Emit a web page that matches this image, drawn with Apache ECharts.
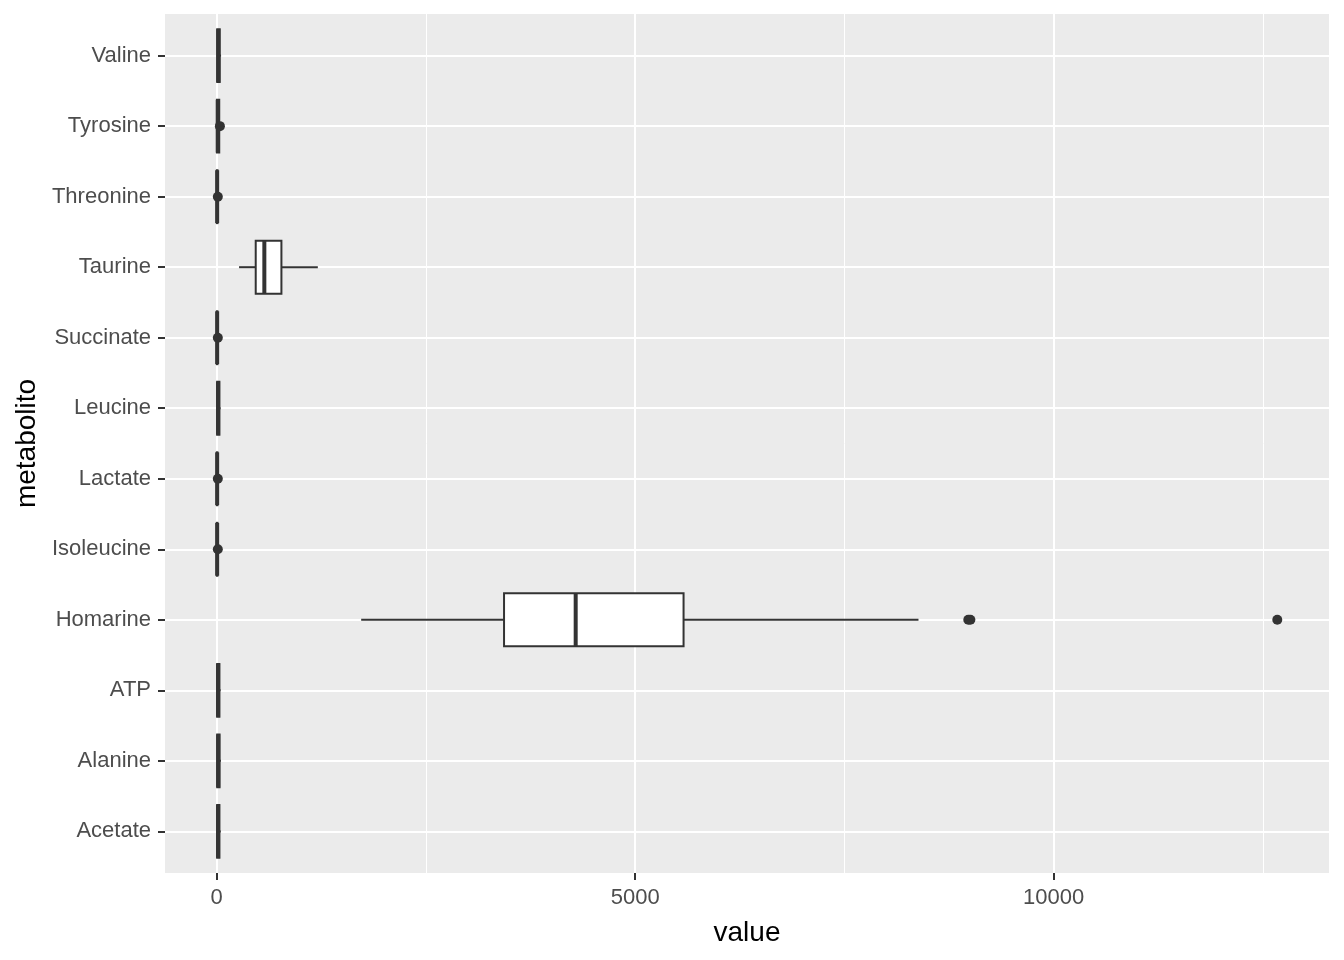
<!DOCTYPE html>
<html><head><meta charset="utf-8">
<script src="https://cdn.jsdelivr.net/npm/echarts@6/dist/echarts.min.js"></script>
<style>html,body{margin:0;padding:0;background:#fff}#c{width:1344px;height:960px}</style>
</head><body><div id="c"></div>
<script>
// categories, bottom to top (ggplot factor order)
const categories = ['Acetate','Alanine','ATP','Homarine','Isoleucine','Lactate','Leucine','Succinate','Taurine','Threonine','Tyrosine','Valine'];
// box statistics per category: [lower whisker, Q1, median, Q3, upper whisker]
const lowerWhisker = [2, 3, 2, 1726, 0, 0, 2, 0, 267, 0, 0, 2];
const q1Values     = [5, 6, 5, 3433, 2, 2, 5, 2, 466, 2, 3, 6];
const medianValues = [16, 17, 16, 4289, 5, 5, 16, 5, 569, 5, 12, 18];
const q3Values     = [32, 34, 32, 5578, 8, 8, 32, 8, 773, 9, 30, 36];
const upperWhisker = [48, 50, 46, 8385, 10, 10, 46, 10, 1208, 11, 34, 52];
// outliers: category name and value
const outlierCats = ['Homarine','Homarine','Homarine','Tyrosine','Threonine','Succinate','Lactate','Isoleucine'];
const outlierVals = [8980, 9005, 12672, 38, 13, 13, 13, 13];
// axis ticks
const xTickValues = [0, 5000, 10000];
const xMinorValues = [2500, 7500, 12500];
const xMin = -618, xMax = 13290;

const font = "'Liberation Sans', Arial, sans-serif";
const dark = '#333333';

const boxData = categories.map((c, i) => [i + 1, lowerWhisker[i], q1Values[i], medianValues[i], q3Values[i], upperWhisker[i]]);
const outlierData = outlierCats.map((c, i) => [outlierVals[i], categories.indexOf(c) + 1]);
const yTickValues = categories.map((c, i) => i + 1);

const chart = echarts.init(document.getElementById('c'), null, {renderer: 'canvas'});
chart.setOption({
  animation: false,
  backgroundColor: '#ffffff',
  grid: {left: 165, right: 15, top: 14, bottom: 87, show: true, backgroundColor: '#EBEBEB', borderWidth: 0,
    containLabel: false, outerBoundsMode: 'none'},
  xAxis: [{
    type: 'value', min: xMin, max: xMax, position: 'bottom',
    name: 'value', nameLocation: 'middle', nameGap: 46,
    nameTextStyle: {fontFamily: font, fontSize: 28, color: '#000'},
    axisLine: {show: false, onZero: false},
    axisTick: {show: true, length: 7, lineStyle: {color: dark, width: 2}, customValues: xTickValues},
    axisLabel: {show: true, margin: 14, fontFamily: font, fontSize: 22, color: '#4D4D4D', customValues: xTickValues, formatter: v => String(v)},
    splitLine: {show: true, lineStyle: {color: '#ffffff', width: 2}}
  }, {
    type: 'value', min: xMin, max: xMax, position: 'bottom',
    axisLine: {show: false, onZero: false},
    axisTick: {show: false, customValues: xMinorValues},
    axisLabel: {show: false, customValues: xMinorValues},
    splitLine: {show: true, lineStyle: {color: '#ffffff', width: 1}}
  }],
  yAxis: {
    type: 'value', min: 0.41, max: 12.59, position: 'left',
    name: 'metabolito', nameLocation: 'middle', nameGap: 122, nameRotate: 90,
    nameTextStyle: {fontFamily: font, fontSize: 28, color: '#000'},
    axisLine: {show: false, onZero: false},
    axisTick: {show: true, length: 7, lineStyle: {color: dark, width: 2}, customValues: yTickValues},
    axisLabel: {show: true, margin: 14, fontFamily: font, fontSize: 22, color: '#4D4D4D', customValues: yTickValues,
      formatter: v => categories[Math.round(v) - 1] || ''},
    splitLine: {show: true, lineStyle: {color: '#ffffff', width: 2}}
  },
  series: [{
    type: 'custom',
    xAxisIndex: 0,
    encode: {x: [1, 2, 3, 4, 5], y: 0},
    data: boxData,
    silent: true,
    renderItem: function (params, api) {
      const y = api.value(0);
      const lo = api.coord([api.value(1), y]);
      const a = api.coord([api.value(2), y]);
      const m = api.coord([api.value(3), y]);
      const b = api.coord([api.value(4), y]);
      const hi = api.coord([api.value(5), y]);
      const h = Math.abs(api.size([0, 0.75])[1]);
      const cy = lo[1];
      const ls = {stroke: dark, lineWidth: 2};
      return {type: 'group', children: [
        {type: 'line', shape: {x1: lo[0], y1: cy, x2: a[0], y2: cy}, style: ls},
        {type: 'line', shape: {x1: b[0], y1: cy, x2: hi[0], y2: cy}, style: ls},
        {type: 'rect', shape: {x: a[0], y: cy - h / 2, width: b[0] - a[0], height: h}, style: {fill: '#ffffff', stroke: dark, lineWidth: 2}},
        {type: 'line', shape: {x1: m[0], y1: cy - h / 2, x2: m[0], y2: cy + h / 2}, style: {stroke: dark, lineWidth: 4}}
      ]};
    }
  }, {
    type: 'scatter',
    xAxisIndex: 0,
    data: outlierData,
    symbol: 'circle',
    symbolSize: 10,
    itemStyle: {color: dark, opacity: 1},
    silent: true,
    z: 3
  }]
});
</script>
</body></html>
